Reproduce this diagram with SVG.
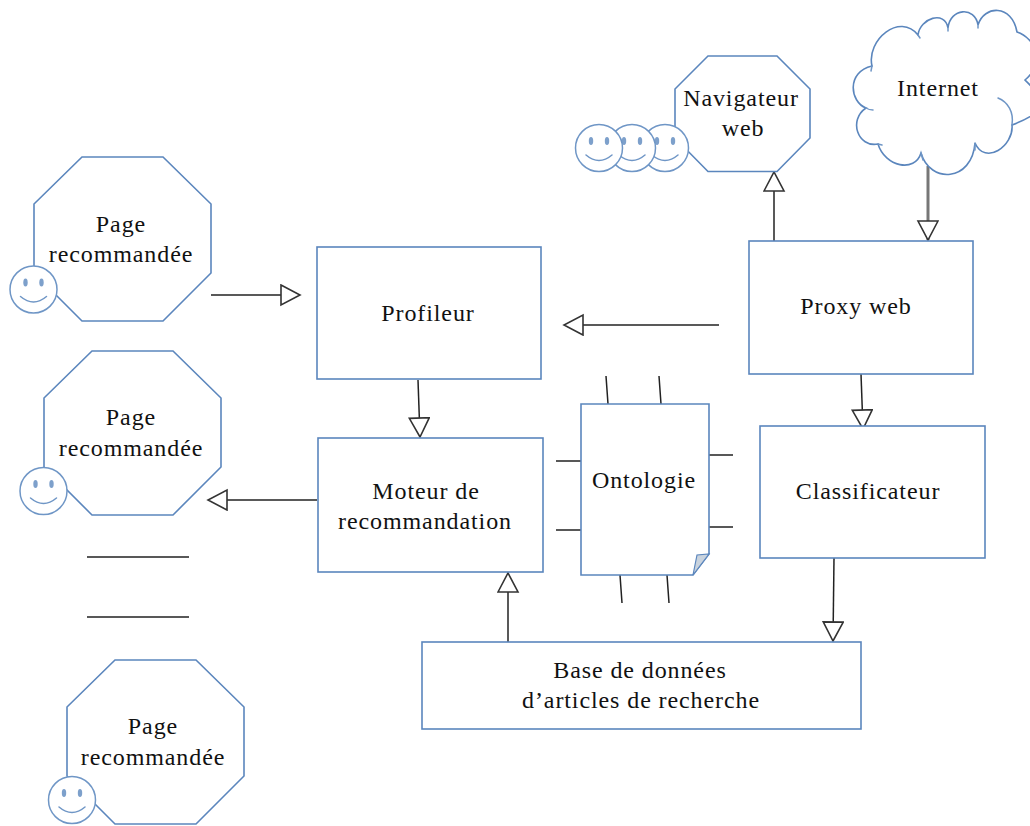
<svg xmlns="http://www.w3.org/2000/svg" width="1030" height="826" viewBox="0 0 1030 826">
<style>
.s{fill:#fff;stroke:#5b86bd;stroke-width:1.6}
.f{fill:none;stroke:#6f96c6;stroke-width:1.5;stroke-linecap:round}
.e{fill:#7da0cb;stroke:none}
.c{fill:none;stroke:#222;stroke-width:1.5}
.t{font-family:"Liberation Serif",serif;font-size:24px;fill:#111;text-anchor:middle;letter-spacing:.9px}
</style>
<defs>
<marker id="h" markerUnits="userSpaceOnUse" markerWidth="24" markerHeight="24" refX="20" refY="11" orient="auto"><path d="M1 1L20 11L1 21Z" fill="#fff" stroke="#333" stroke-width="1.6"/></marker>
<g id="smile"><circle r="23.5" fill="#fff" stroke="#6f96c6" stroke-width="1.5"/><ellipse class="e" cx="-8" cy="-7" rx="2.2" ry="4"/><ellipse class="e" cx="8" cy="-7" rx="2.2" ry="4"/><path class="f" d="M-13 7Q0 18 13 7"/></g>
<path id="oct" class="s" d="M48 0H129L177 47V116L129 164H48L0 116V47Z"/>
</defs>
<g id="connectors">
<path class="c" d="M211 295H300" marker-end="url(#h)"/>
<path class="c" d="M719 325H564" marker-end="url(#h)"/>
<path class="c" d="M774 241V172" marker-end="url(#h)"/>
<path d="M928 166V240" fill="none" stroke="#777" stroke-width="3" marker-end="url(#h)"/>
<path class="c" d="M418 380L420 437" marker-end="url(#h)"/>
<path class="c" d="M317 500H208" marker-end="url(#h)"/>
<path class="c" d="M861 374L863 429" marker-end="url(#h)"/>
<path class="c" d="M834 558L833 641" marker-end="url(#h)"/>
<path class="c" d="M508 642V573" marker-end="url(#h)"/>
<path class="c" d="M87 557H189M87 617H189"/>
<path class="c" d="M606 376L608 404M659 376L661 404M556 461H581M556 530H581M709 455H733M709 527H733M620 575L622 603M667 575L669 603"/>
</g>
<g id="page1"><use href="#oct" x="34" y="157"/><use href="#smile" x="33.500" y="289.500"/><text class="t" x="121" y="232">Page</text><text class="t" x="121" y="262">recommandée</text></g>
<g id="page2"><use href="#oct" x="44" y="351"/><use href="#smile" x="43.500" y="491"/><text class="t" x="131" y="425">Page</text><text class="t" x="131" y="456">recommandée</text></g>
<g id="page3"><use href="#oct" x="67" y="660"/><use href="#smile" x="72" y="800"/><text class="t" x="153" y="734">Page</text><text class="t" x="153" y="765">recommandée</text></g>
<g id="navigateur"><path class="s" d="M708 56H777L810 89V138L777 171.500H708L675 138V89Z"/><use href="#smile" x="665" y="148"/><use href="#smile" x="632" y="148"/><use href="#smile" x="599" y="148"/><text class="t" x="741" y="106">Navigateur</text><text class="t" x="743" y="136">web</text></g>
<g id="internet"><path class="s" d="M872 66C866 40 900 12 918 35C920 18 945 10 948 28C950 8 975 6 978 25C984 5 1012 4 1017 32C1035 38 1046 62 1025 80L1045 100C1040 112 1030 118 1012 125C1014 146 985 166 975 143C972 182 930 184 921 153C915 173 885 167 878 144C858 148 848 120 866 108C850 102 846 72 872 66Z"/><path class="f" d="M998 98C1008 102 1014 112 1012 125M975 143V150M921 153L923 160M878 144L882 145M866 108C869 110 872 110 873 110M872 66L871 71M918 35L920 38M948 28L948 31M978 25L978 28"/><text class="t" x="938" y="96">Internet</text></g>
<g id="profileur"><rect class="s" x="317" y="247" width="224" height="132"/><text class="t" x="428" y="321">Profileur</text></g>
<g id="moteur"><rect class="s" x="318" y="438" width="225" height="134"/><text class="t" x="426" y="499">Moteur de</text><text class="t" x="425" y="529">recommandation</text></g>
<g id="proxy"><rect class="s" x="749" y="241" width="224" height="133"/><text class="t" x="856" y="314">Proxy web</text></g>
<g id="classificateur"><rect class="s" x="760" y="426" width="225" height="132"/><text class="t" x="868" y="499">Classificateur</text></g>
<g id="ontologie"><path class="s" d="M581 404H709V554L693 575H581Z"/><path d="M693 575L697 555L709 554Z" fill="#c9d3de" stroke="#5b86bd" stroke-width="1.2"/><text class="t" x="644" y="488">Ontologie</text></g>
<g id="base"><rect class="s" x="422" y="642" width="439" height="87"/><text class="t" x="640" y="678">Base de données</text><text class="t" x="641" y="708">d’articles de recherche</text></g>
</svg>
